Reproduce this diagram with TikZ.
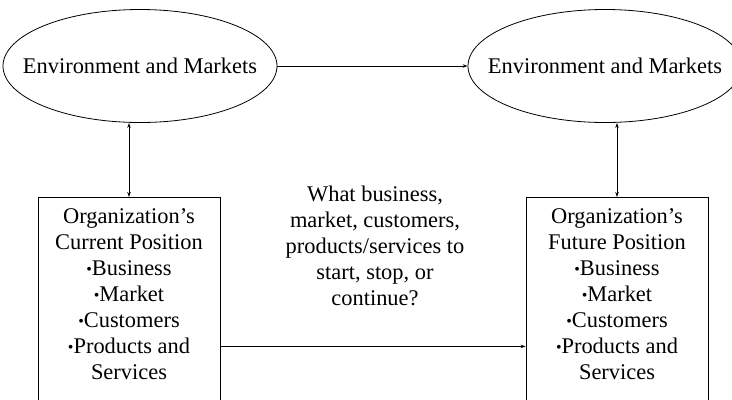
\documentclass[tikz,border=0pt]{standalone}
\usepackage{fontspec}
\setmainfont{Liberation Serif}
\usetikzlibrary{shapes.geometric,arrows.meta}
\newcommand{\dotitem}{\raisebox{1bp}{\fontsize{16}{16}\selectfont\textbullet}}
\tikzset{
    env/.style={ellipse, draw, minimum width=274bp, minimum height=113bp, inner sep=0pt},
    posbox/.style={rectangle, draw, minimum width=182bp, minimum height=298bp, anchor=north},
    postext/.style={anchor=north, align=center, inner sep=0pt, yshift=-11bp}
}

\begin{document}
\begin{tikzpicture}[x=1bp, y=-1bp, line width=0.8bp, >={Stealth[length=5bp,width=3.5bp]},
    font=\fontsize{22.5}{26.2}\selectfont]
\path[use as bounding box, clip] (0,0) rectangle (732,399);

\node[env] (envL) at (140,66) {\makebox[150bp]{Environment and Markets}};
\node[env] (envR) at (605,66) {\makebox[150bp]{Environment and Markets}};

\node[posbox, label={[postext]north:{Organization's\\Current Position\\\dotitem Business\\\dotitem Market\\\dotitem Customers\\\dotitem Products and\\Services}}] (boxL) at (129,197) {};
\node[posbox, label={[postext]north:{Organization's\\Future Position\\\dotitem Business\\\dotitem Market\\\dotitem Customers\\\dotitem Products and\\Services}}] (boxR) at (617,197) {};

\node[align=center] (what) at (375,246) {What business,\\market, customers,\\products/services to\\start, stop, or\\continue?};

\draw[->] (envL) -- (envR);
\draw[<->] (envL.south -| boxL.north) -- (boxL.north);
\draw[<->] (envR.south -| boxR.north) -- (boxR.north);
\draw[->] (boxL.east) -- (boxR.west);
\end{tikzpicture}
\end{document}
